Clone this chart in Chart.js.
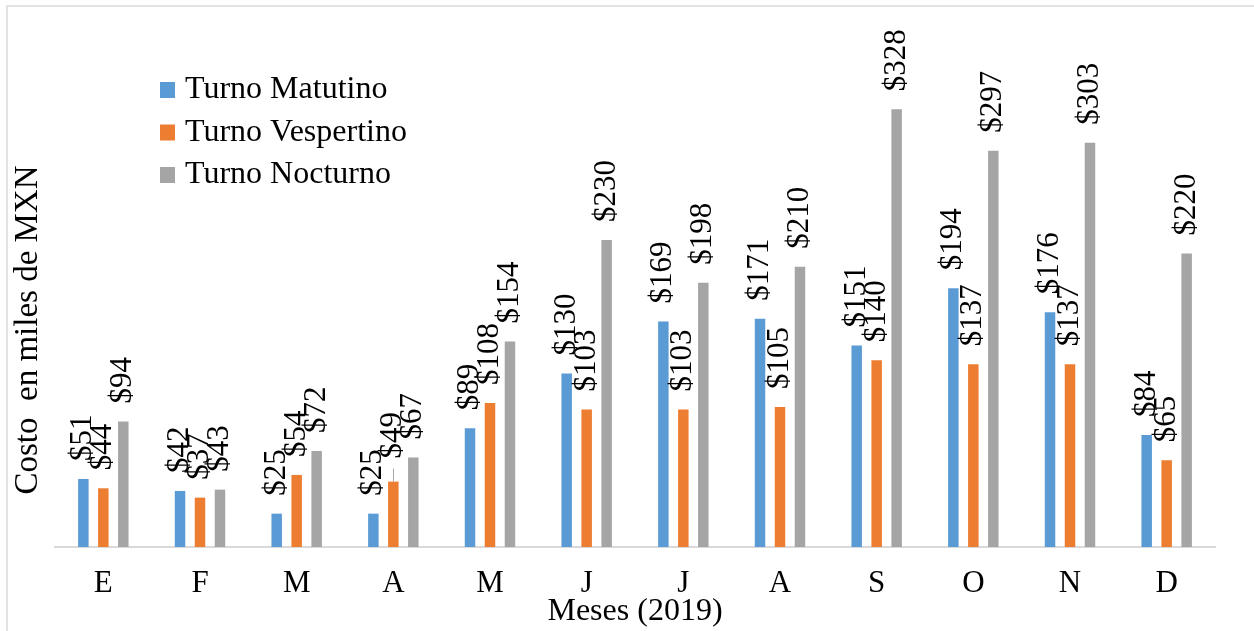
<!DOCTYPE html>
<html lang="es">
<head>
<meta charset="utf-8">
<title>Costo por turno 2019</title>
<script src="https://cdn.jsdelivr.net/npm/chart.js@4.4.1/dist/chart.umd.min.js"></script>
<style>
  html, body { margin: 0; padding: 0; background: #fff; }
  #wrap { position: relative; width: 1254px; height: 631px; overflow: hidden; }
</style>
</head>
<body>
<div id="wrap"><canvas id="chart" width="1254" height="631"></canvas></div>
<script>
// Datos: costo mensual por turno, en miles de MXN (2019)
const meses = ['E', 'F', 'M', 'A', 'M', 'J', 'J', 'A', 'S', 'O', 'N', 'D'];
const turnoMatutino   = [51, 42, 25, 25, 89, 130, 169, 171, 151, 194, 176, 84];
const turnoVespertino = [44, 37, 54, 49, 108, 103, 103, 105, 140, 137, 137, 65];
const turnoNocturno   = [94, 43, 72, 67, 154, 230, 198, 210, 328, 297, 303, 220];
const nombresSeries = ['Turno Matutino', 'Turno Vespertino', 'Turno Nocturno'];
const tituloEjeY = 'Costo  en miles de MXN';
const tituloEjeX = 'Meses (2019)';

// Estilo
const colores = ['#5B9BD5', '#ED7D31', '#A5A5A5'];
const FUENTE = "'Liberation Serif', 'Times New Roman', serif";
const TAM = 31;

// Etiqueta desplazada con línea guía (serie-índice -> px extra)
const etiquetasConGuia = { '1-3': 5 };

// Fondo blanco y marco exterior gris claro
const marco = {
  id: 'marco',
  beforeDraw(chart) {
    const ctx = chart.ctx;
    ctx.save();
    ctx.fillStyle = '#ffffff';
    ctx.fillRect(0, 0, chart.width, chart.height);
    ctx.strokeStyle = '#d9d9d9';
    ctx.lineWidth = 1.5;
    ctx.beginPath();
    ctx.moveTo(7, chart.height + 2);
    ctx.lineTo(7, 6);
    ctx.lineTo(chart.width + 2, 6);
    ctx.stroke();
    ctx.restore();
  }
};

// Etiquetas de valor giradas 90° sobre cada barra
const etiquetasValor = {
  id: 'etiquetasValor',
  afterDatasetsDraw(chart) {
    const ctx = chart.ctx;
    ctx.save();
    ctx.font = `${TAM}px ${FUENTE}`;
    ctx.fillStyle = '#000';
    ctx.textAlign = 'left';
    ctx.textBaseline = 'middle';
    chart.data.datasets.forEach((ds, di) => {
      const meta = chart.getDatasetMeta(di);
      meta.data.forEach((bar, i) => {
        const extra = etiquetasConGuia[`${di}-${i}`] || 0;
        const base = bar.y - 18 - extra;
        if (extra) {
          ctx.save();
          ctx.strokeStyle = '#a6a6a6';
          ctx.lineWidth = 1;
          ctx.beginPath();
          ctx.moveTo(Math.round(bar.x) + 0.5, bar.y);
          ctx.lineTo(Math.round(bar.x) + 0.5, bar.y - 13);
          ctx.stroke();
          ctx.restore();
        }
        ctx.save();
        ctx.translate(bar.x, base);
        ctx.rotate(-Math.PI / 2);
        ctx.fillText('$' + ds.data[i], 0, 0);
        ctx.restore();
      });
    });
    ctx.restore();
  }
};

// Leyenda dentro del área de trazado y título del eje vertical
const leyendaYTitulo = {
  id: 'leyendaYTitulo',
  afterDraw(chart) {
    const ctx = chart.ctx;
    ctx.save();
    ctx.font = `32px ${FUENTE}`;
    ctx.fillStyle = '#000';
    ctx.textAlign = 'left';
    ctx.textBaseline = 'middle';
    chart.data.datasets.forEach((ds, di) => {
      const cy = 90 + di * 42.5;
      ctx.fillStyle = ds.backgroundColor;
      ctx.fillRect(160, cy - 8, 15, 16);
      ctx.fillStyle = '#000';
      ctx.fillText(ds.label, 185, cy);
    });

    ctx.font = `33px ${FUENTE}`;
    ctx.textAlign = 'center';
    ctx.translate(28, 330);
    ctx.rotate(-Math.PI / 2);
    ctx.fillText(tituloEjeY, 0, 0);
    ctx.restore();
  }
};

const series = [turnoMatutino, turnoVespertino, turnoNocturno];

new Chart(document.getElementById('chart'), {
  type: 'bar',
  data: {
    labels: meses,
    datasets: series.map((valores, i) => ({
      label: nombresSeries[i],
      data: valores,
      backgroundColor: colores[i],
      borderWidth: 0,
      categoryPercentage: 0.62,
      barPercentage: 0.525
    }))
  },
  options: {
    responsive: false,
    animation: false,
    layout: { padding: { left: 55, right: 39, top: 80, bottom: 0 } },
    plugins: {
      legend: { display: false },
      tooltip: { enabled: false },
      title: { display: false }
    },
    scales: {
      x: {
        grid: { display: false, drawTicks: false },
        border: { display: true, color: '#d9d9d9', width: 2 },
        ticks: {
          color: '#000',
          font: { family: FUENTE, size: TAM },
          padding: 18,
          maxRotation: 0
        },
        title: {
          display: true,
          text: tituloEjeX,
          color: '#000',
          font: { family: FUENTE, size: 32 },
          padding: 0
        },
        afterFit(scale) { scale.height = 84; }
      },
      y: {
        display: false,
        min: 0,
        max: 350
      }
    }
  },
  plugins: [marco, etiquetasValor, leyendaYTitulo]
});
</script>
</body>
</html>
